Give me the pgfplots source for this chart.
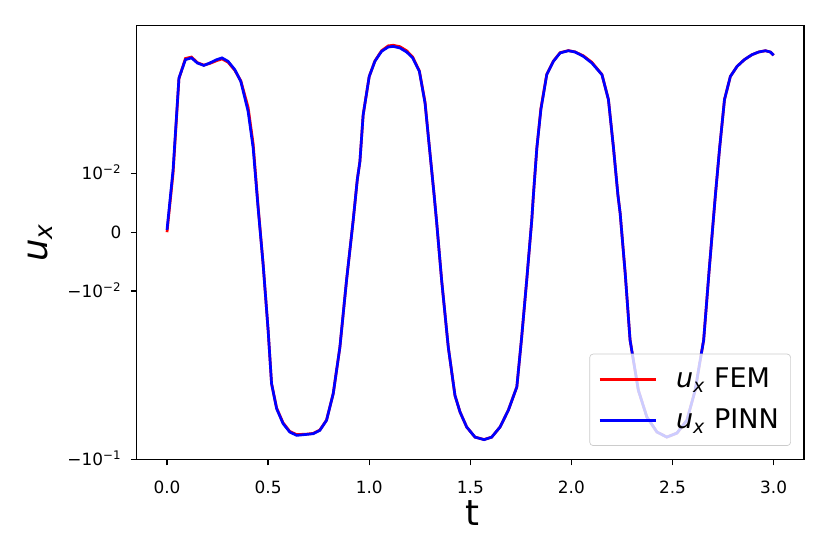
\documentclass[border=0pt]{standalone}
\usepackage{fontspec}
\setmainfont{DejaVu Sans}
\usepackage{pgfplots}
\pgfplotsset{compat=1.18}
\begin{document}
\begin{tikzpicture}
\path[use as bounding box] (-80.87pt,-55.9pt) rectangle (410.2pt,271.8pt);
\begin{axis}[
  at={(0pt,0pt)}, anchor=south west,
  scale only axis, width=394.8pt, height=256.6pt,
  xmin=-0.15, xmax=3.15, ymin=-1.71317, ymax=1.557,
  xtick={0,0.5,1,1.5,2,2.5,3},
  xticklabels={0.0,0.5,1.0,1.5,2.0,2.5,3.0},
  ytick={-1.71317,-0.44444,0,0.44444},
  yticklabels={−10\textsuperscript{−1},−10\textsuperscript{−2},0,10\textsuperscript{−2}},
  minor tick num=0,
  tick align=outside, major tick length=3.5pt,
  tick style={black, line width=0.8pt},
  axis line style={line width=0.8pt},
  xtick pos=bottom, ytick pos=left,
  ticklabel style={font=\fontsize{10}{12}\selectfont},
  xticklabel style={anchor=base, yshift=-16.5pt},
  yticklabel style={anchor=base east, yshift=-3.65pt, xshift=-2pt},
  xlabel={t}, ylabel={\textit{u}\textsubscript{\textit{x}}},
  label style={font=\fontsize{21}{25}\selectfont},
  xlabel style={at={(axis description cs:0.503,-0.1526)}, anchor=base},
  ylabel style={at={(axis description cs:-0.1442,0.5)}, anchor=center},
  y filter/.expression={abs(y)<0.025 ? 44.4444*y : (2*(y>0)-1)*(1.11111+log10(max(abs(y),1e-9)/0.025))},
  legend style={at={(0.9805,0.0311)}, anchor=south east, draw=black!20, rounded corners=2pt,
    fill=white, fill opacity=0.8, text opacity=1, draw opacity=1,
    font=\fontsize{16}{19}\selectfont, inner xsep=5pt, inner ysep=6.4pt, row sep=7pt,
    /tikz/every odd column/.append style={column sep=8.8pt}},
  legend cell align=left,
  legend image code/.code={\draw[#1] (0pt,0pt) -- (33.7pt,0pt);},
]
\addplot[red, line width=1.6pt] coordinates {
(0.000,0.0) (0.030,0.0100) (0.059,0.0278) (0.091,0.0395) (0.121,0.0405)
(0.150,0.0368) (0.182,0.0352) (0.211,0.0362) (0.245,0.0380) (0.272,0.0392)
(0.302,0.0370) (0.335,0.0322) (0.365,0.0268) (0.401,0.0212) (0.426,0.0150)
(0.450,0.0046) (0.475,-0.0053) (0.500,-0.0166) (0.517,-0.0268) (0.542,-0.0410)
(0.574,-0.0530) (0.607,-0.0615) (0.641,-0.0650) (0.690,-0.0645) (0.723,-0.0637)
(0.756,-0.0600) (0.789,-0.0505) (0.822,-0.0319) (0.855,-0.0195) (0.888,-0.0081)
(0.921,0.0021) (0.941,0.0089) (0.954,0.0120) (0.970,0.0199) (1.000,0.0289)
(1.028,0.0378) (1.061,0.0452) (1.094,0.0492) (1.119,0.0497) (1.152,0.0485)
(1.185,0.0452) (1.215,0.0405) (1.248,0.0318) (1.276,0.0221) (1.293,0.0160)
(1.321,0.0063) (1.334,0.0015) (1.358,-0.0081) (1.391,-0.0195) (1.424,-0.0329)
(1.449,-0.0439) (1.482,-0.0570) (1.523,-0.0679) (1.568,-0.0708) (1.606,-0.0679)
(1.647,-0.0570) (1.688,-0.0426) (1.730,-0.0284) (1.754,-0.0178) (1.779,-0.0081)
(1.804,0.0021) (1.812,0.0063) (1.829,0.0143) (1.849,0.0210) (1.878,0.0300)
(1.911,0.0378) (1.944,0.0437) (1.985,0.0453) (2.018,0.0443) (2.059,0.0414)
(2.101,0.0370) (2.151,0.0299) (2.183,0.0225) (2.208,0.0143) (2.230,0.0063)
(2.241,0.0032) (2.266,-0.0070) (2.290,-0.0183) (2.331,-0.0301) (2.373,-0.0479)
(2.423,-0.0622) (2.472,-0.0679) (2.522,-0.0633) (2.571,-0.0507) (2.612,-0.0301)
(2.637,-0.0217) (2.654,-0.0183) (2.682,-0.0061) (2.712,0.0063) (2.733,0.0143)
(2.757,0.0225) (2.786,0.0289) (2.819,0.0344) (2.855,0.0387) (2.893,0.0422)
(2.926,0.0442) (2.959,0.0452) (2.984,0.0442) (3.000,0.0418)
};
\addlegendentry{\textit{u}\textsubscript{\textit{x}} FEM}
\addplot[blue, line width=1.6pt] coordinates {
(0.000,0.0004) (0.030,0.0106) (0.059,0.0281) (0.091,0.0387) (0.121,0.0399)
(0.150,0.0365) (0.182,0.0350) (0.211,0.0365) (0.245,0.0387) (0.272,0.0399)
(0.302,0.0376) (0.335,0.0326) (0.365,0.0265) (0.401,0.0205) (0.426,0.0143)
(0.450,0.0043) (0.475,-0.0053) (0.500,-0.0166) (0.517,-0.0268) (0.542,-0.0414)
(0.574,-0.0537) (0.607,-0.0622) (0.641,-0.0659) (0.690,-0.0648) (0.723,-0.0640)
(0.756,-0.0604) (0.789,-0.0507) (0.822,-0.0319) (0.855,-0.0195) (0.888,-0.0081)
(0.921,0.0021) (0.941,0.0089) (0.954,0.0120) (0.970,0.0199) (1.000,0.0289)
(1.028,0.0376) (1.061,0.0447) (1.094,0.0482) (1.119,0.0487) (1.152,0.0474)
(1.185,0.0442) (1.215,0.0399) (1.248,0.0316) (1.276,0.0219) (1.293,0.0160)
(1.321,0.0063) (1.334,0.0015) (1.358,-0.0081) (1.391,-0.0195) (1.424,-0.0329)
(1.449,-0.0439) (1.482,-0.0570) (1.523,-0.0679) (1.568,-0.0710) (1.606,-0.0679)
(1.647,-0.0570) (1.688,-0.0426) (1.730,-0.0284) (1.754,-0.0178) (1.779,-0.0081)
(1.804,0.0021) (1.812,0.0063) (1.829,0.0143) (1.849,0.0208) (1.878,0.0298)
(1.911,0.0376) (1.944,0.0435) (1.985,0.0452) (2.018,0.0442) (2.059,0.0410)
(2.101,0.0365) (2.151,0.0298) (2.183,0.0225) (2.208,0.0143) (2.230,0.0063)
(2.241,0.0032) (2.266,-0.0070) (2.290,-0.0183) (2.331,-0.0301) (2.373,-0.0479)
(2.423,-0.0622) (2.472,-0.0679) (2.522,-0.0633) (2.571,-0.0507) (2.612,-0.0301)
(2.637,-0.0217) (2.654,-0.0183) (2.682,-0.0061) (2.712,0.0063) (2.733,0.0143)
(2.757,0.0225) (2.786,0.0289) (2.819,0.0344) (2.855,0.0387) (2.893,0.0422)
(2.926,0.0442) (2.959,0.0452) (2.984,0.0442) (3.000,0.0418)
};
\addlegendentry{\textit{u}\textsubscript{\textit{x}} PINN}
\end{axis}
\end{tikzpicture}
\end{document}
